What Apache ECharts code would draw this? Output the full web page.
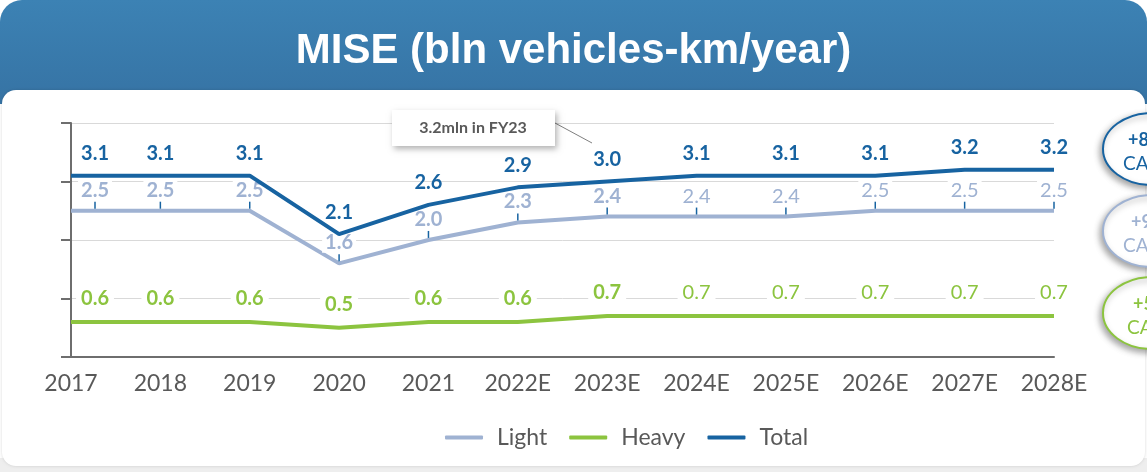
<!DOCTYPE html>
<html>
<head>
<meta charset="utf-8">
<script src="https://cdn.jsdelivr.net/npm/echarts@6/dist/echarts.min.js"></script>
<style>
  html, body { margin: 0; padding: 0; background: #ffffff; }
  #chart { width: 1147px; height: 472px; }
</style>
</head>
<body>
<div id="chart"></div>
<script>
// Vehicle-km travelled, billions per year
const categories = ['2017', '2018', '2019', '2020', '2021', '2022E', '2023E', '2024E', '2025E', '2026E', '2027E', '2028E'];
const lightValues = [2.5, 2.5, 2.5, 1.6, 2.0, 2.3, 2.4, 2.4, 2.4, 2.5, 2.5, 2.5];
const heavyValues = [0.6, 0.6, 0.6, 0.5, 0.6, 0.6, 0.7, 0.7, 0.7, 0.7, 0.7, 0.7];
const totalValues = [3.1, 3.1, 3.1, 2.1, 2.6, 2.9, 3.0, 3.1, 3.1, 3.1, 3.2, 3.2];
const seriesNames = ['Light', 'Heavy', 'Total'];
const actualCount = 7;          // years up to 2023E shown with bold labels
const cagrTexts = ['+8%', '+9%', '+5%'];
const calloutText = '3.2mln in FY23';
const titleText = 'MISE (bln vehicles-km/year)';

const C_TOTAL = '#1763a1';
const C_LIGHT = '#9fb2d2';
const C_HEAVY = '#8cc43f';
const C_TEXT = '#595959';
const FONT = 'Lato, "Open Sans", sans-serif';

const chart = echarts.init(document.getElementById('chart'));

function firstOffset(i) { return i === 0 ? [24, 0] : [0, 0]; }

const totalData = totalValues.map((v, i) => ({
  value: v,
  label: { offset: firstOffset(i) }
}));
const heavyData = heavyValues.map((v, i) => ({
  value: v,
  label: { offset: firstOffset(i), fontWeight: i < actualCount ? 'bold' : 'normal' }
}));
const lightData = lightValues.map((v, i) => ({
  value: v,
  label: { offset: firstOffset(i) }
}));

// CAGR bubbles on the right edge
const bubbles = [
  { cy: 149, color: C_TOTAL, tx1: 1128, tx2: 1123 },
  { cy: 231, color: C_LIGHT, tx1: 1131, tx2: 1123 },
  { cy: 313, color: C_HEAVY, tx1: 1133, tx2: 1127 }
];
const bubbleGraphics = [];
bubbles.forEach((b, i) => {
  bubbleGraphics.push({
    type: 'ellipse', z: 50,
    shape: { cx: 1152, cy: b.cy, rx: 49, ry: 36 },
    style: { fill: '#ffffff', stroke: b.color, lineWidth: 2,
             shadowBlur: 6, shadowOffsetX: -2, shadowOffsetY: 3, shadowColor: 'rgba(0,0,0,0.35)' }
  });
  bubbleGraphics.push({
    type: 'text', z: 51, x: b.tx1, y: b.cy - 9,
    style: { text: cagrTexts[i], fill: b.color, font: 'bold 18px ' + FONT, verticalAlign: 'middle' }
  });
  bubbleGraphics.push({
    type: 'text', z: 51, x: b.tx2, y: b.cy + 15,
    style: { text: 'CAGR', fill: b.color, font: '19px ' + FONT, verticalAlign: 'middle' }
  });
});

// near-invisible markers so the line labels are rendered
const hiddenMarker = { symbol: 'circle', symbolSize: 0.1, showSymbol: true };

chart.setOption({
  backgroundColor: '#ffffff',
  animation: false,
  title: {
    text: titleText,
    left: 'center',
    top: 25,
    textStyle: { color: '#ffffff', fontSize: 42, fontWeight: 'bold', fontFamily: '"Liberation Sans", Arial, sans-serif' }
  },
  graphic: [
    { type: 'rect', z: -20, shape: { x: 0, y: 458, width: 1147, height: 14 }, style: { fill: '#eeeeee' } },
    { type: 'rect', z: -19, shape: { x: 0, y: 0, width: 1147, height: 104, r: [22, 22, 0, 0] },
      style: { fill: new echarts.graphic.LinearGradient(0, 0, 0, 1, [
        { offset: 0, color: '#3c82b4' }, { offset: 1, color: '#3673a4' }]) } },
    { type: 'rect', z: -18, shape: { x: 2, y: 90, width: 1143, height: 376, r: 14 },
      style: { fill: '#ffffff', shadowBlur: 3, shadowColor: 'rgba(0,0,0,0.15)' } },
    // callout box
    { type: 'line', z: 60, shape: { x1: 555, y1: 123, x2: 592, y2: 143 }, style: { stroke: '#7f7f7f', lineWidth: 1 } },
    { type: 'rect', z: 61, shape: { x: 392, y: 110, width: 163, height: 36 },
      style: { fill: '#ffffff', shadowBlur: 6, shadowOffsetX: 2, shadowOffsetY: 3, shadowColor: 'rgba(0,0,0,0.3)' } },
    { type: 'text', z: 62, x: 473, y: 128,
      style: { text: calloutText, fill: C_TEXT, font: 'bold 16px ' + FONT, align: 'center', verticalAlign: 'middle' } }
  ].concat(bubbleGraphics),
  legend: {
    data: seriesNames,
    bottom: 18,
    left: 440,
    icon: 'roundRect',
    itemWidth: 38,
    itemHeight: 4,
    itemGap: 22,
    textStyle: { color: C_TEXT, fontSize: 23, fontFamily: FONT, padding: [0, 0, 0, 9] }
  },
  grid: { left: 71, right: 93, top: 123, bottom: 115, containLabel: false },
  xAxis: {
    type: 'category',
    data: categories,
    boundaryGap: false,
    axisLine: { lineStyle: { color: '#6e6e6e', width: 2 } },
    axisTick: { show: false },
    axisLabel: { color: C_TEXT, fontSize: 23, fontFamily: FONT, margin: 15 },
    splitLine: { show: false }
  },
  yAxis: {
    type: 'value',
    min: 0, max: 4, interval: 1,
    axisLine: { show: true, lineStyle: { color: '#6e6e6e', width: 2 } },
    axisTick: { show: true, length: 10, lineStyle: { color: '#6e6e6e', width: 2 } },
    axisLabel: { show: false },
    splitLine: { lineStyle: { color: '#d9d9d9', width: 1 } }
  },
  series: [
    Object.assign({
      name: 'Light', type: 'line', data: lightData, z: 3,
      lineStyle: { color: C_LIGHT, width: 4 }, itemStyle: { color: C_LIGHT },
      label: {
        show: true, position: 'top', distance: 2,
        formatter: p => (p.dataIndex < actualCount ? '{vb|' : '{vn|') + p.value.toFixed(1) + '}\n{bar|}',
        rich: {
          vb: { fontSize: 20, fontWeight: 'bold', color: C_LIGHT, fontFamily: FONT, backgroundColor: '#ffffff',
                padding: [0, 3], lineHeight: 23, align: 'center' },
          vn: { fontSize: 20, fontWeight: 'normal', color: C_LIGHT, fontFamily: FONT, backgroundColor: '#ffffff',
                padding: [0, 3], lineHeight: 23, align: 'center' },
          bar: { width: 1.5, height: 7, backgroundColor: C_TOTAL, align: 'center' }
        }
      }
    }, hiddenMarker),
    Object.assign({
      name: 'Heavy', type: 'line', data: heavyData, z: 3,
      lineStyle: { color: C_HEAVY, width: 4 }, itemStyle: { color: C_HEAVY },
      label: {
        show: true, position: 'top', distance: 12,
        formatter: p => p.value.toFixed(1),
        color: C_HEAVY, fontSize: 20, fontFamily: FONT,
        backgroundColor: '#ffffff', padding: [1, 5]
      }
    }, hiddenMarker),
    Object.assign({
      name: 'Total', type: 'line', data: totalData, z: 4,
      lineStyle: { color: C_TOTAL, width: 4 }, itemStyle: { color: C_TOTAL },
      label: {
        show: true, position: 'top', distance: 12,
        formatter: p => p.value.toFixed(1),
        color: C_TOTAL, fontSize: 20, fontWeight: 'bold', fontFamily: FONT
      }
    }, hiddenMarker)
  ]
});
</script>
</body>
</html>
